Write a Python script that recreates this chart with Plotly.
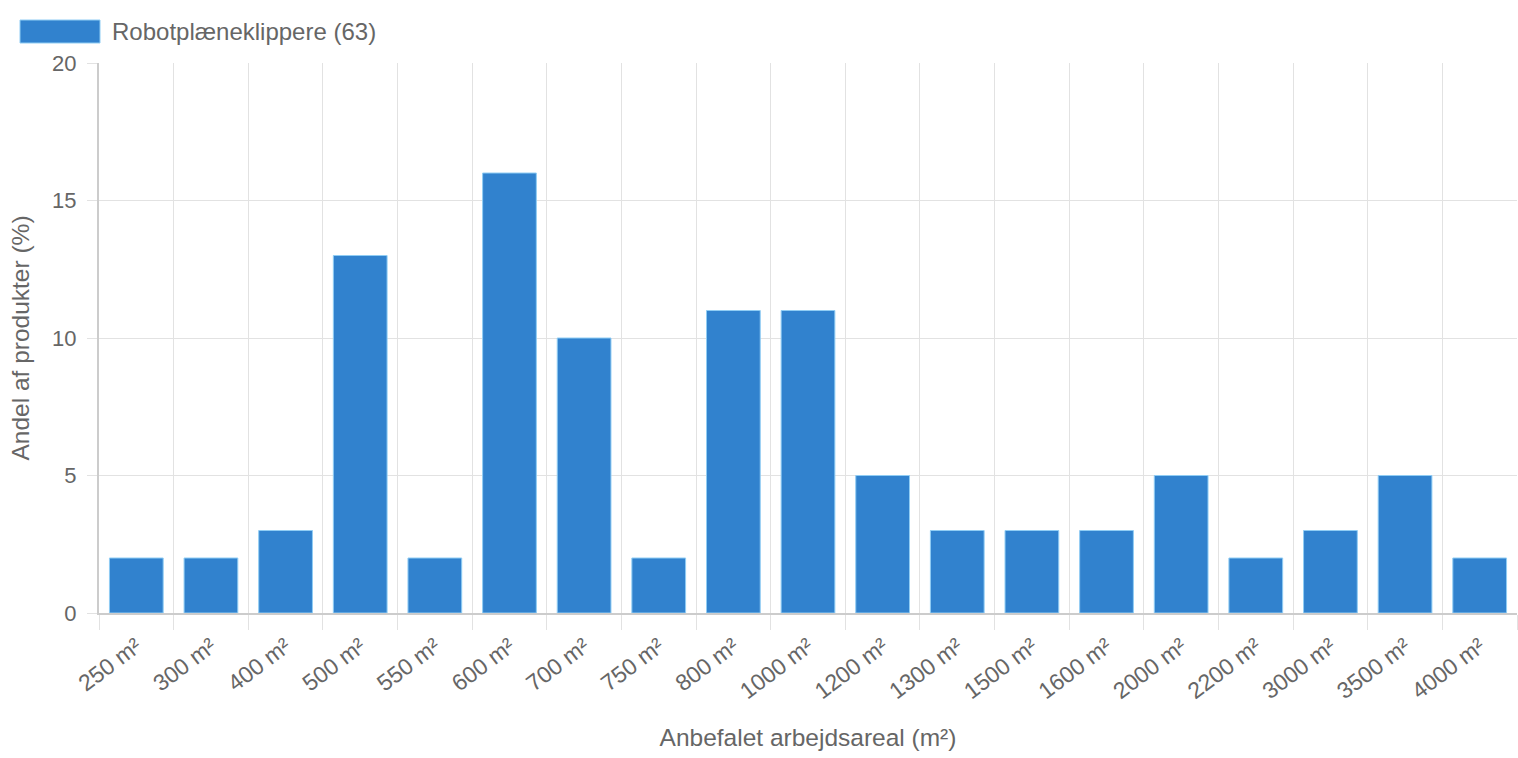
import plotly.graph_objects as go

categories = ["250 m²", "300 m²", "400 m²", "500 m²", "550 m²", "600 m²", "700 m²", "750 m²",
              "800 m²", "1000 m²", "1200 m²", "1300 m²", "1500 m²", "1600 m²", "2000 m²",
              "2200 m²", "3000 m²", "3500 m²", "4000 m²"]
values = [2, 2, 3, 13, 2, 16, 10, 2, 11, 11, 5, 3, 3, 3, 5, 2, 3, 5, 2]
series_name = "Robotplæneklippere (63)"
y_ticks = [0, 5, 10, 15, 20]

positions = list(range(len(categories)))
boundaries = [i - 0.5 for i in range(len(categories) + 1)]

FONT = "Liberation Sans, Arial, Helvetica, sans-serif"
fig = go.Figure()
fig.add_trace(go.Bar(
    x=positions, y=values, name=series_name, width=0.72,
    marker=dict(color="#3182ce", line=dict(color="#90cdf4", width=1)),
    showlegend=False, hoverinfo="y",
))

fig.update_layout(
    width=1518, height=758,
    margin=dict(l=99, r=1, t=63, b=145),
    plot_bgcolor="white", paper_bgcolor="white",
    font=dict(family=FONT, color="#666666", size=21),
    xaxis=dict(
        range=[-0.5, len(categories) - 0.5],
        tickmode="array", tickvals=positions, ticktext=categories,
        tickangle=-37, ticks="", showgrid=False, zeroline=False,
        showline=True, linecolor="#cccccc", linewidth=2,
        tickfont=dict(size=23, color="#666666"), ticklabelstandoff=9,
        minor=dict(tickmode="array", tickvals=boundaries, showgrid=True,
                   gridcolor="#e2e2e2", gridwidth=1, ticks="outside",
                   ticklen=15, tickcolor="#e2e2e2", tickwidth=1),
        title=dict(text="Anbefalet arbejdsareal (m²)", font=dict(size=24.5, color="#666666"), standoff=26),
    ),
    yaxis=dict(
        range=[0, 20], tickmode="array", tickvals=y_ticks,
        showgrid=True, gridcolor="#e2e2e2", gridwidth=1,
        ticks="outside", ticklen=10, tickcolor="#e2e2e2",
        showline=True, linecolor="#cccccc", linewidth=2, zeroline=False,
        tickfont=dict(size=22, color="#666666"), ticklabelstandoff=6,
        title=dict(text="Andel af produkter (%)", font=dict(size=24.5, color="#666666"), standoff=16),
    ),
)

# legend-like box and label (Chart.js style)
fig.add_shape(type="rect", xref="paper", yref="paper",
              x0=(20 - 99) / 1418, x1=(100 - 99) / 1418,
              y0=(613 - 43) / 550, y1=(613 - 20) / 550,
              fillcolor="#3182ce", line=dict(color="#90cdf4", width=1))
fig.add_annotation(xref="paper", yref="paper", x=(110 - 99) / 1418, y=(613 - 31.5) / 550,
                   text=series_name, showarrow=False, xanchor="left", yanchor="middle",
                   font=dict(size=24, color="#666666", family=FONT))

fig.write_html("out.html", config={"displayModeBar": False},
               post_script="document.body.style.margin='0';document.body.style.overflow='hidden';")
